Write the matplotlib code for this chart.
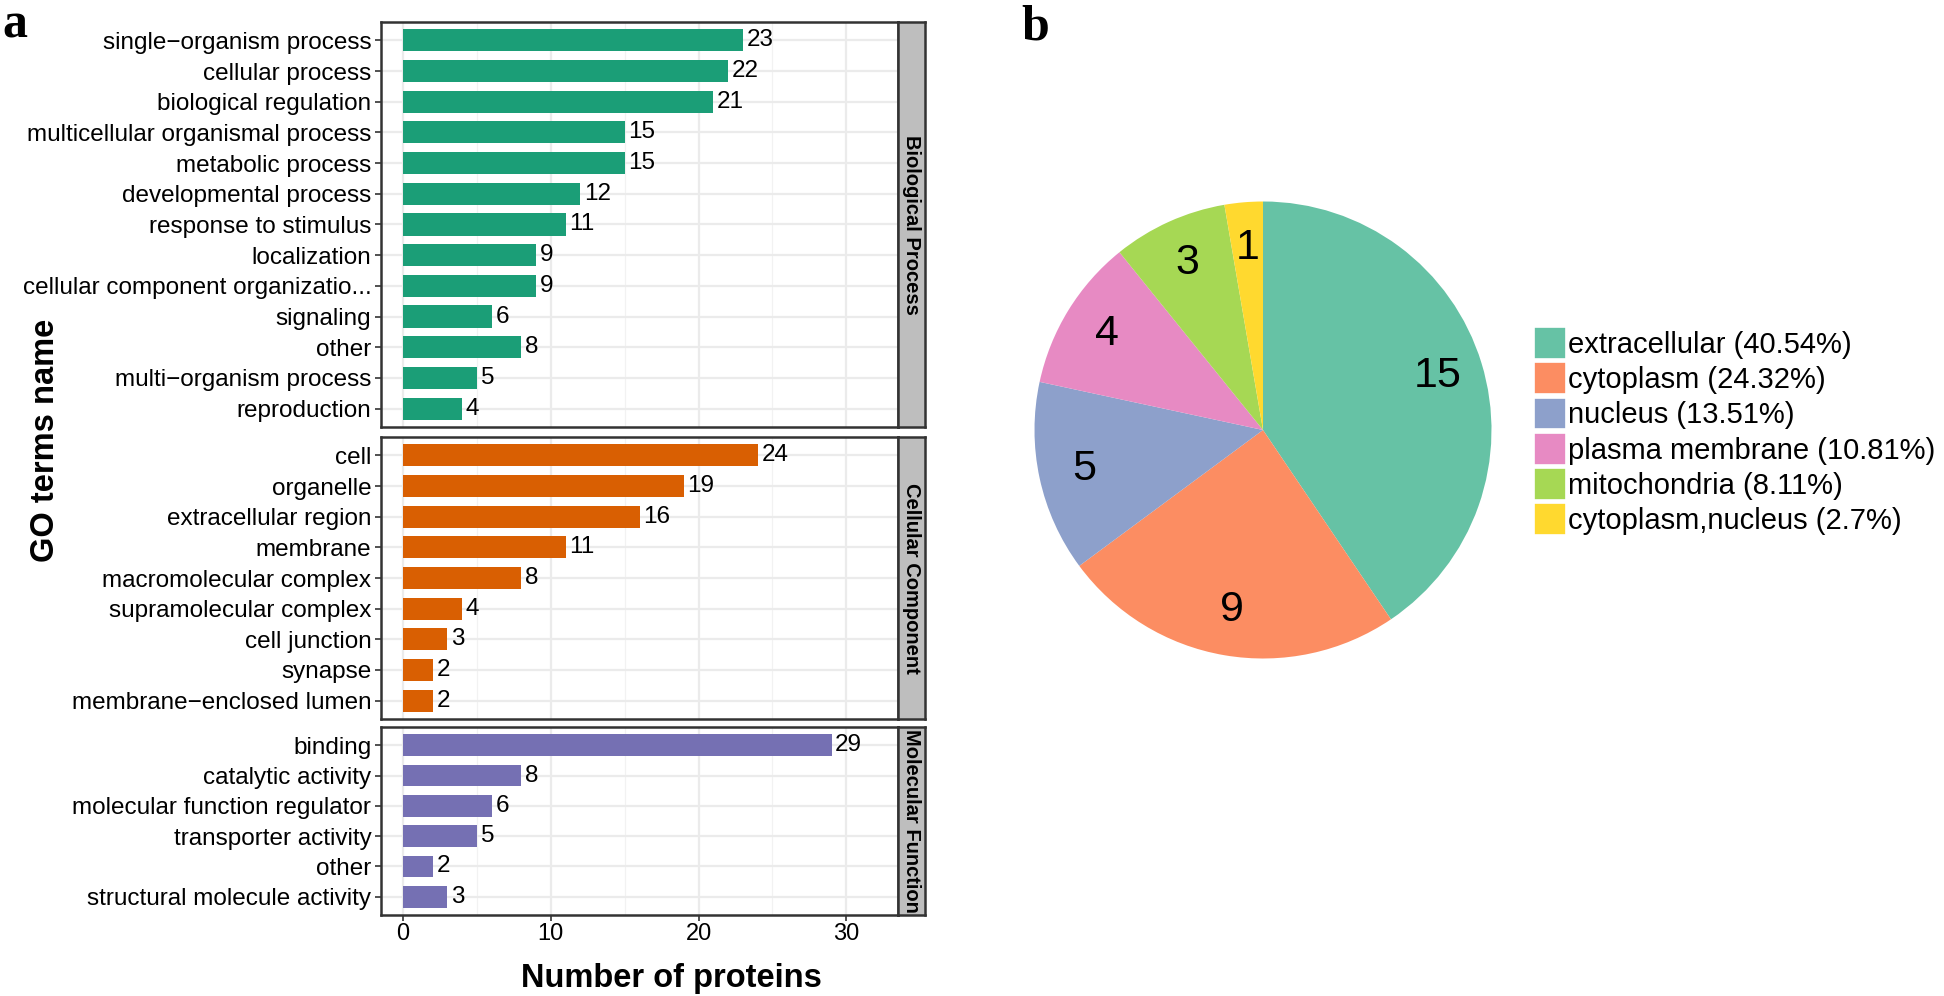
import matplotlib
matplotlib.use("Agg")
import matplotlib.pyplot as plt
from matplotlib.patches import Patch

plt.rcParams['font.family'] = ['Liberation Sans', 'DejaVu Sans']

# ---------------- data ----------------
bp_terms = ["single\u2212organism process", "cellular process", "biological regulation",
            "multicellular organismal process", "metabolic process", "developmental process",
            "response to stimulus", "localization", "cellular component organizatio...",
            "signaling", "other", "multi\u2212organism process", "reproduction"]
bp_counts = [23, 22, 21, 15, 15, 12, 11, 9, 9, 6, 8, 5, 4]

cc_terms = ["cell", "organelle", "extracellular region", "membrane", "macromolecular complex",
            "supramolecular complex", "cell junction", "synapse", "membrane\u2212enclosed lumen"]
cc_counts = [24, 19, 16, 11, 8, 4, 3, 2, 2]

mf_terms = ["binding", "catalytic activity", "molecular function regulator",
            "transporter activity", "other", "structural molecule activity"]
mf_counts = [29, 8, 6, 5, 2, 3]

facet_names = ["Biological Process", "Cellular Component", "Molecular Function"]
facet_colors = ["#1B9E77", "#D95F02", "#7570B3"]

loc_names = ["extracellular", "cytoplasm", "nucleus", "plasma membrane",
             "mitochondria", "cytoplasm,nucleus"]
loc_counts = [15, 9, 5, 4, 3, 1]
loc_colors = ["#66C2A5", "#FC8D62", "#8DA0CB", "#E78AC3", "#A6D854", "#FFD92F"]

x_ticks = [0, 10, 20, 30]

# ---------------- figure ----------------
W, H = 1944, 996
fig = plt.figure(figsize=(W / 100, H / 100), dpi=100)


def px_axes(x0, y0, x1, y1):
    """axes from pixel box (top-left origin)"""
    return fig.add_axes([x0 / W, 1 - y1 / H, (x1 - x0) / W, (y1 - y0) / H])


panel_left, panel_right, strip_right = 381, 898, 925
panels_y = [(22, 427), (437, 719), (727, 915)]
groups = [(bp_terms, bp_counts), (cc_terms, cc_counts), (mf_terms, mf_counts)]

border_col = "#333333"
for i, ((terms, counts), (y0, y1)) in enumerate(zip(groups, panels_y)):
    ax = px_axes(panel_left, y0, panel_right, y1)
    n = len(terms)
    ypos = list(range(n))
    ax.barh(ypos, counts, height=0.72, color=facet_colors[i], zorder=3)
    for yy, c in zip(ypos, counts):
        ax.text(c + 0.25, yy, str(c), va="center", ha="left", fontsize=17.5, zorder=4)
    ax.set_ylim(n - 1 + 0.6, -0.6)
    ax.set_xlim(-1.5, 33.5)
    ax.set_yticks(ypos)
    ax.set_yticklabels(terms, fontsize=17.5, color="black")
    ax.set_xticks(x_ticks)
    ax.set_xticks([5, 15, 25], minor=True)
    ax.grid(True, which="major", color="#EBEBEB", lw=1.6, zorder=0)
    ax.grid(True, which="minor", axis="x", color="#F2F2F2", lw=0.9, zorder=0)
    ax.set_axisbelow(True)
    ax.tick_params(axis="y", length=4, width=1.2, color="#333333", pad=3)
    ax.tick_params(axis="x", which="minor", length=0)
    if i < 2:
        ax.tick_params(axis="x", which="major", length=0, labelbottom=False)
    else:
        ax.tick_params(axis="x", which="major", length=4, width=1.2, color="#333333",
                       labelsize=17, pad=2)
    for s in ax.spines.values():
        s.set_color(border_col)
        s.set_linewidth(1.8)
    # strip
    sax = px_axes(panel_right, y0, strip_right, y1)
    sax.set_facecolor("#BEBEBE")
    sax.set_xticks([])
    sax.set_yticks([])
    for s in sax.spines.values():
        s.set_color(border_col)
        s.set_linewidth(1.8)
    sax.text(0.5, 0.5, facet_names[i], rotation=-90, ha="center", va="center",
             fontsize=14.5, fontweight="bold", transform=sax.transAxes)

fig.text(46 / W, 1 - 440 / H, "GO terms name", rotation=90, ha="center", va="center",
         fontsize=23.5, fontweight="bold")
fig.text(671 / W, 1 - 978 / H, "Number of proteins", ha="center", va="center",
         fontsize=23.5, fontweight="bold")

fig.text(2 / W, 1 - 38 / H, "a", fontsize=36, fontweight="bold",
         family=["Liberation Serif", "DejaVu Serif"], ha="left", va="baseline")
fig.text(1021 / W, 1 - 39 / H, "b", fontsize=36, fontweight="bold",
         family=["Liberation Serif", "DejaVu Serif"], ha="left", va="baseline")

# ---------------- pie ----------------
cx, cy, r = 1263, 430, 228.5
pax = px_axes(cx - r, cy - r, cx + r, cy + r)
total = sum(loc_counts)
wedges, _, autotexts = pax.pie(loc_counts, colors=loc_colors, startangle=90,
                               counterclock=False, autopct=lambda p: f"{round(p * total / 100)}",
                               pctdistance=0.8, radius=1.0,
                               textprops=dict(fontsize=31, color="black"))
pax.set_xlim(-1, 1)
pax.set_ylim(-1, 1)
pax.set_aspect("auto")

labels = [f"{nm} ({round(100 * c / total, 2):g}%)" for nm, c in zip(loc_names, loc_counts)]
handles = [Patch(facecolor=col, edgecolor="white", linewidth=1.2) for col in loc_colors]
fig.legend(handles, labels, loc="upper left", bbox_to_anchor=(1534 / W, 1 - 327 / H),
           frameon=False, fontsize=21, handlelength=1.1, handleheight=1.3,
           handletextpad=0.08, labelspacing=0.12, borderpad=0, borderaxespad=0)

fig.savefig("out.png", dpi=100, facecolor="white")
